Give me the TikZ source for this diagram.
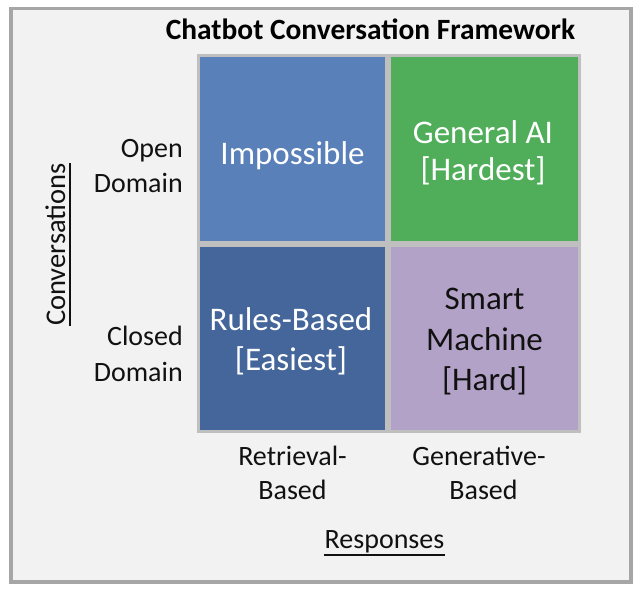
\documentclass[tikz,border=0pt]{standalone}
\usepackage{fontspec}
\setmainfont{Carlito}
\definecolor{framegray}{HTML}{A6A6A6}
\definecolor{framefill}{HTML}{F2F2F2}
\definecolor{cellgray}{HTML}{BFBFBF}
\definecolor{lightblue}{HTML}{5A80B9}
\definecolor{darkblue}{HTML}{44669A}
\definecolor{okgreen}{HTML}{50AE5A}
\definecolor{lavender}{HTML}{B3A2C7}
\definecolor{inktext}{HTML}{111111}
\begin{document}
\begin{tikzpicture}[x=1pt,y=-1pt,
  cell/.style={draw=cellgray, line width=3pt, inner sep=0pt, outer sep=0pt},
  celltext/.style={inner sep=0pt, anchor=base, font=\fontsize{33}{40}\selectfont},
  axtext/.style={inner sep=0pt, text=inktext, font=\fontsize{28}{34}\selectfont},
  sidelabel/.style={axtext, anchor=base east},
  botlabel/.style={axtext, anchor=base},
  uline/.style={draw=inktext, line width=1.4pt}
]
\useasboundingbox (0,0) rectangle (640,590);
\fill[white] (0,0) rectangle (640,590);
% frame
\draw[framegray, line width=3.5pt, fill=framefill] (11,8.5) rectangle (631,582);
% title
\node[inner sep=0pt, anchor=base, text=black, font=\fontsize{29.4}{34}\selectfont\bfseries] (title) at (370.5,39.5) {Chatbot Conversation Framework};
% cells
\node[cell, fill=lightblue, minimum width=188pt, minimum height=187pt] (c11) at (292.5,149) {};
\node[cell, fill=okgreen,   minimum width=190pt, minimum height=187pt] (c12) at (484.5,149) {};
\node[cell, fill=darkblue,  minimum width=188pt, minimum height=186pt] (c21) at (292.5,338.5) {};
\node[cell, fill=lavender,  minimum width=190pt, minimum height=186pt] (c22) at (484.5,338.5) {};
% cell texts
\node[celltext, text=white] (t11) at (292.5,164) {Impossible};
\node[celltext, text=white] (t12a) at (483,143) {General AI};
\node[celltext, text=white] (t12b) at (483,180) {[Hardest]};
\node[celltext, text=white] (t21a) at (291,330) {Rules-Based};
\node[celltext, text=white] (t21b) at (291,370) {[Easiest]};
\node[celltext, text=inktext] (t22a) at (484.5,309) {Smart};
\node[celltext, text=inktext] (t22b) at (484.5,350) {Machine};
\node[celltext, text=inktext] (t22c) at (484.5,390) {[Hard]};
% row labels
\node[sidelabel] (open1) at (183,157) {Open};
\node[sidelabel] (open2) at (183,192) {Domain};
\node[sidelabel] (closed1) at (183,345.5) {Closed};
\node[sidelabel] (closed2) at (183,381.5) {Domain};
% column labels
\node[botlabel] (ret1) at (292.5,465) {Retrieval-};
\node[botlabel] (ret2) at (292.5,499) {Based};
\node[botlabel] (gen1) at (479,465) {Generative-};
\node[botlabel] (gen2) at (483.5,499) {Based};
% axis titles
\node[botlabel] (resp) at (384.5,548) {Responses};
\draw[uline] ([yshift=-7pt]resp.base west) -- ([yshift=-7pt]resp.base east);
\node[axtext, anchor=base, rotate=90, font=\fontsize{28.5}{34}\selectfont] (conv) at (65,244.5) {Conversations};
\draw[uline] ([xshift=5pt]conv.base west) -- ([xshift=5pt]conv.base east);
\end{tikzpicture}
\end{document}
